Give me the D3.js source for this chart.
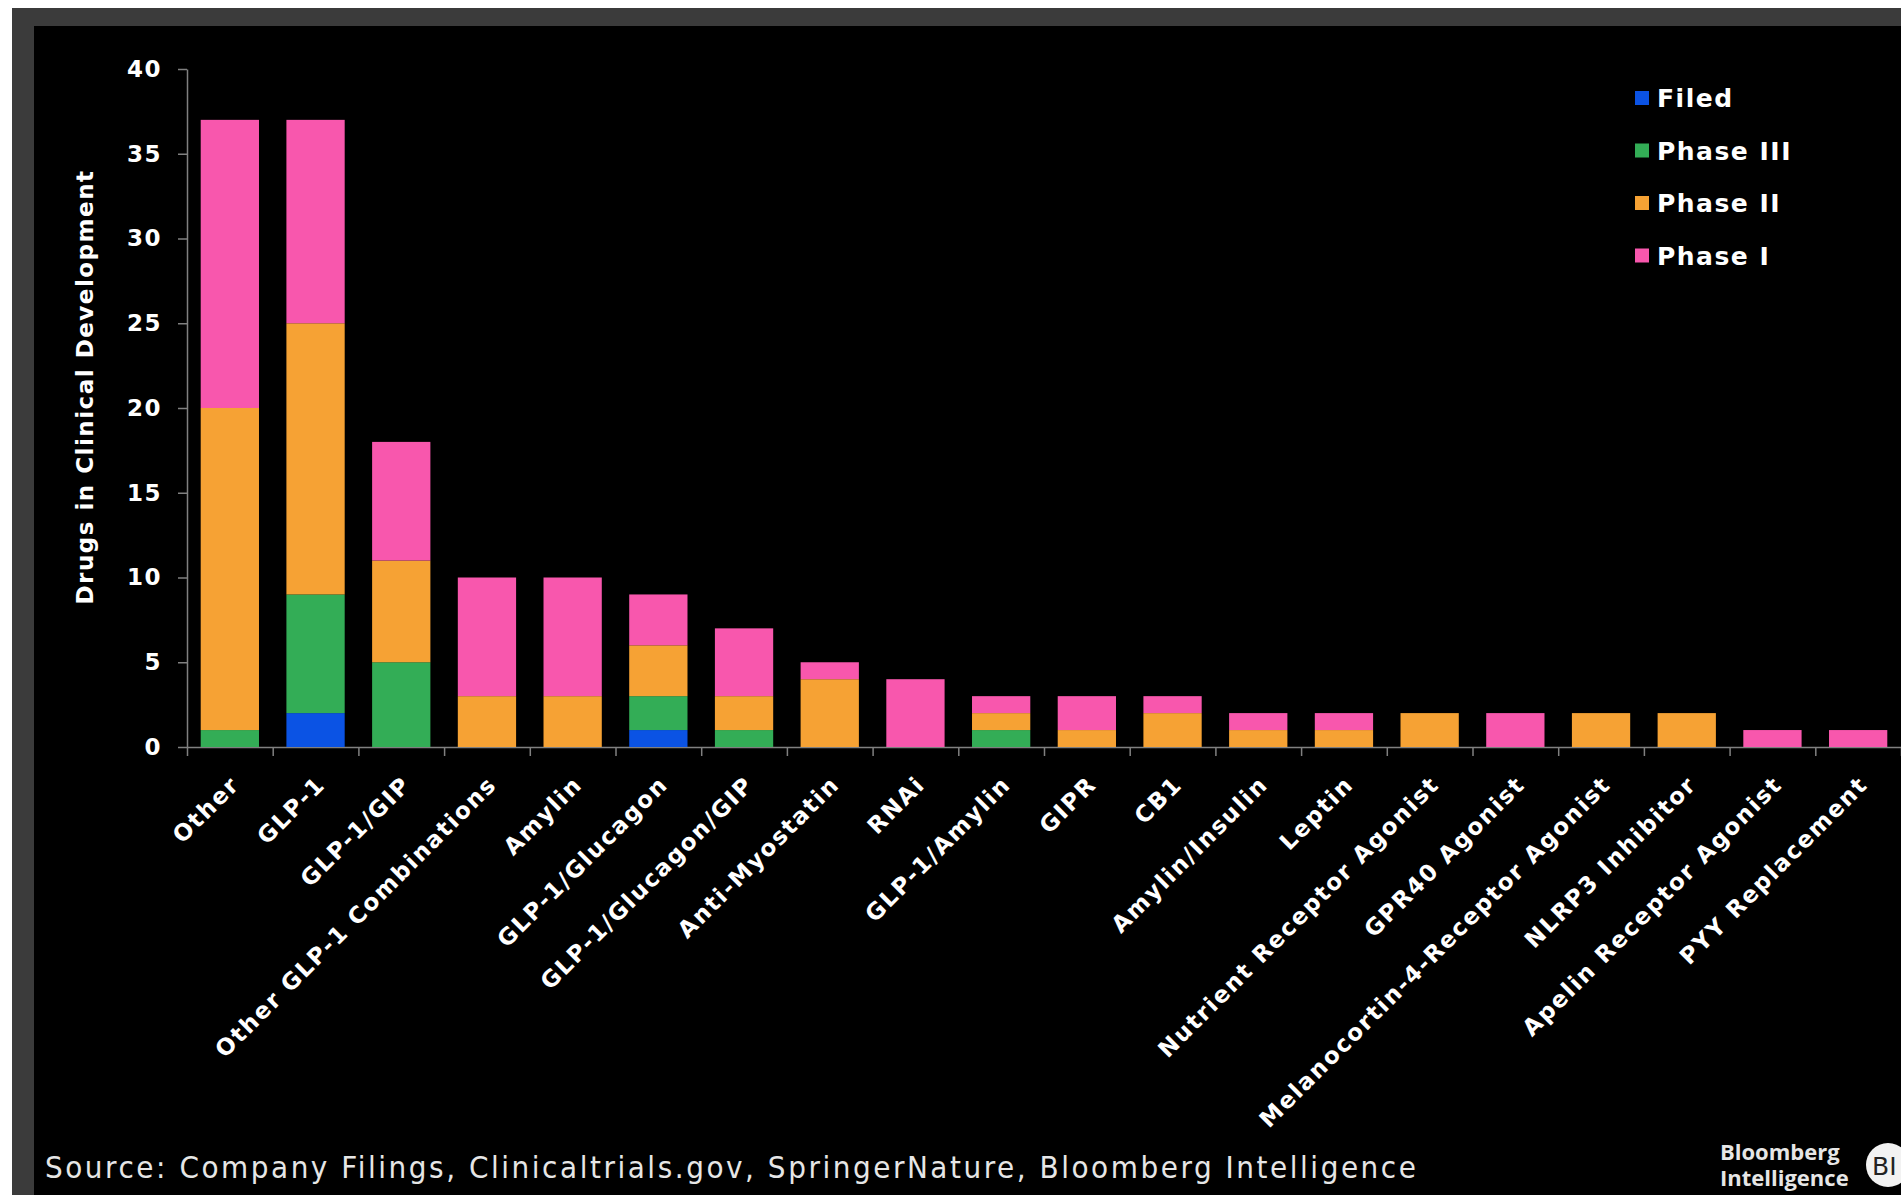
<!DOCTYPE html>
<html>
<head>
<meta charset="utf-8">
<script src="https://cdn.jsdelivr.net/npm/d3@7"></script>
<style>
  body { margin: 0; background: #fff; }
  svg { display: block; }
</style>
</head>
<body>
<div id="chart"></div>
<script>
const categories = [
  'Other', 'GLP-1', 'GLP-1/GIP', 'Other GLP-1 Combinations', 'Amylin',
  'GLP-1/Glucagon', 'GLP-1/Glucagon/GIP', 'Anti-Myostatin', 'RNAi', 'GLP-1/Amylin',
  'GIPR', 'CB1', 'Amylin/Insulin', 'Leptin', 'Nutrient Receptor Agonist',
  'GPR40 Agonist', 'Melanocortin-4-Receptor Agonist', 'NLRP3 Inhibitor',
  'Apelin Receptor Agonist', 'PYY Replacement'
]
const filed    = [0, 2, 0, 0, 0, 1, 0, 0, 0, 0, 0, 0, 0, 0, 0, 0, 0, 0, 0, 0]
const phase3   = [1, 7, 5, 0, 0, 2, 1, 0, 0, 1, 0, 0, 0, 0, 0, 0, 0, 0, 0, 0]
const phase2   = [19, 16, 6, 3, 3, 3, 2, 4, 0, 1, 1, 2, 1, 1, 2, 0, 2, 2, 0, 0]
const phase1   = [17, 12, 7, 7, 7, 3, 4, 1, 4, 1, 2, 1, 1, 1, 0, 2, 0, 0, 1, 1]
const seriesNames = ['Filed', 'Phase III', 'Phase II', 'Phase I']
const seriesColors = ['#0b53e4', '#33ad56', '#f6a234', '#f857ad']
const yTicks = [0, 5, 10, 15, 20, 25, 30, 35, 40]

const width = 1901
const height = 1195
const margin = { top: 69, left: 187, right: 0, bottom: 448 }
const boldFont = '"DejaVu Sans", Verdana, sans-serif'

const rows = categories.map((c, i) => ({
  category: c, Filed: filed[i], 'Phase III': phase3[i], 'Phase II': phase2[i], 'Phase I': phase1[i]
}))
const stacked = d3.stack().keys(seriesNames)(rows)

const svg = d3.select('#chart')
  .append('svg')
  .attr('width', width)
  .attr('height', height)
  .attr('viewBox', [0, 0, width, height])

// frame
svg.append('rect').attr('width', width).attr('height', height).attr('fill', '#fff')
svg.append('rect').attr('x', 12).attr('y', 8).attr('width', width).attr('height', height).attr('fill', '#3b3b3b')
svg.append('rect').attr('x', 34).attr('y', 26).attr('width', width).attr('height', height).attr('fill', '#000')

const xScale = d3.scaleBand()
  .domain(categories)
  .range([margin.left, width - margin.right])
  .paddingInner(0.32)
  .paddingOuter(0.16)

const yScale = d3.scaleLinear()
  .domain([0, 40])
  .range([height - margin.bottom, margin.top])

const yAxis = g => g
  .attr('transform', `translate(${margin.left},0)`)
  .call(d3.axisLeft(yScale).tickValues(yTicks).tickSize(9).tickSizeOuter(0).tickPadding(16))
  .call(g => g.selectAll('.domain, line').attr('stroke', '#808080').attr('stroke-width', 1.5))
  .call(g => g.selectAll('text')
    .attr('fill', '#fff')
    .attr('font-family', boldFont)
    .attr('font-weight', 'bold')
    .attr('font-size', 23)
    .attr('letter-spacing', '1.5px'))

// category boundary ticks
const xEdges = d3.scaleLinear().domain([0, categories.length]).range(xScale.range())
const xAxis = g => g
  .attr('transform', `translate(0,${yScale(0)})`)
  .call(d3.axisBottom(xEdges).tickValues(d3.range(categories.length + 1)).tickSize(9).tickSizeOuter(0).tickFormat(''))
  .call(g => g.selectAll('.domain, line').attr('stroke', '#808080').attr('stroke-width', 1.5))

svg.append('g').call(xAxis)
svg.append('g').call(yAxis)

// bars
svg.append('g')
  .selectAll('g')
  .data(stacked)
  .join('g')
  .attr('fill', (d, i) => seriesColors[i])
  .selectAll('rect')
  .data(d => d.filter(v => v[1] > v[0]))
  .join('rect')
  .attr('x', d => xScale(d.data.category))
  .attr('y', d => yScale(d[1]))
  .attr('width', xScale.bandwidth())
  .attr('height', d => yScale(d[0]) - yScale(d[1]))

// rotated category labels
svg.append('g')
  .selectAll('text')
  .data(categories)
  .join('text')
  .attr('transform', d => `translate(${xScale(d) + xScale.bandwidth() / 2 + 11},786) rotate(-45)`)
  .attr('text-anchor', 'end')
  .attr('fill', '#fff')
  .attr('font-family', boldFont)
  .attr('font-weight', 'bold')
  .attr('font-size', 23)
  .attr('letter-spacing', '1.8px')
  .text(d => d)

// y title
svg.append('text')
  .attr('transform', 'translate(93,387) rotate(-90)')
  .attr('text-anchor', 'middle')
  .attr('fill', '#fff')
  .attr('font-family', boldFont)
  .attr('font-weight', 'bold')
  .attr('font-size', 23)
  .attr('letter-spacing', '1.5px')
  .text('Drugs in Clinical Development')

// legend
const legend = svg.append('g')
  .selectAll('g')
  .data(seriesNames)
  .join('g')
  .attr('transform', (d, i) => `translate(1635,${98 + i * 52.5})`)
legend.append('rect')
  .attr('y', -7).attr('width', 14).attr('height', 14)
  .attr('fill', (d, i) => seriesColors[i])
legend.append('text')
  .attr('x', 22).attr('y', 9)
  .attr('fill', '#fff')
  .attr('font-family', boldFont)
  .attr('font-weight', 'bold')
  .attr('font-size', 25)
  .attr('letter-spacing', '1.5px')
  .text(d => d)

// source
svg.append('text')
  .attr('x', 45).attr('y', 1178)
  .attr('fill', '#e6e6e6')
  .attr('font-family', '"DejaVu Sans Condensed", "DejaVu Sans", sans-serif')
  .attr('font-size', 31)
  .attr('letter-spacing', '2.55px')
  .text('Source: Company Filings, Clinicaltrials.gov, SpringerNature, Bloomberg Intelligence')

// logo
const logo = svg.append('g').attr('fill', '#e6e6e6').attr('font-family', '"Open Sans", sans-serif').attr('font-weight', 700).attr('font-size', 22)
logo.append('text').attr('x', 1720).attr('y', 1160).text('Bloomberg')
logo.append('text').attr('x', 1720).attr('y', 1186).text('Intelligence')
svg.append('circle').attr('cx', 1888).attr('cy', 1165).attr('r', 22).attr('fill', '#f2f2f2')
svg.append('text').attr('x', 1872).attr('y', 1175).attr('fill', '#222')
  .attr('font-family', '"DejaVu Sans", sans-serif').attr('font-size', 25).text('BI')
</script>
</body>
</html>
